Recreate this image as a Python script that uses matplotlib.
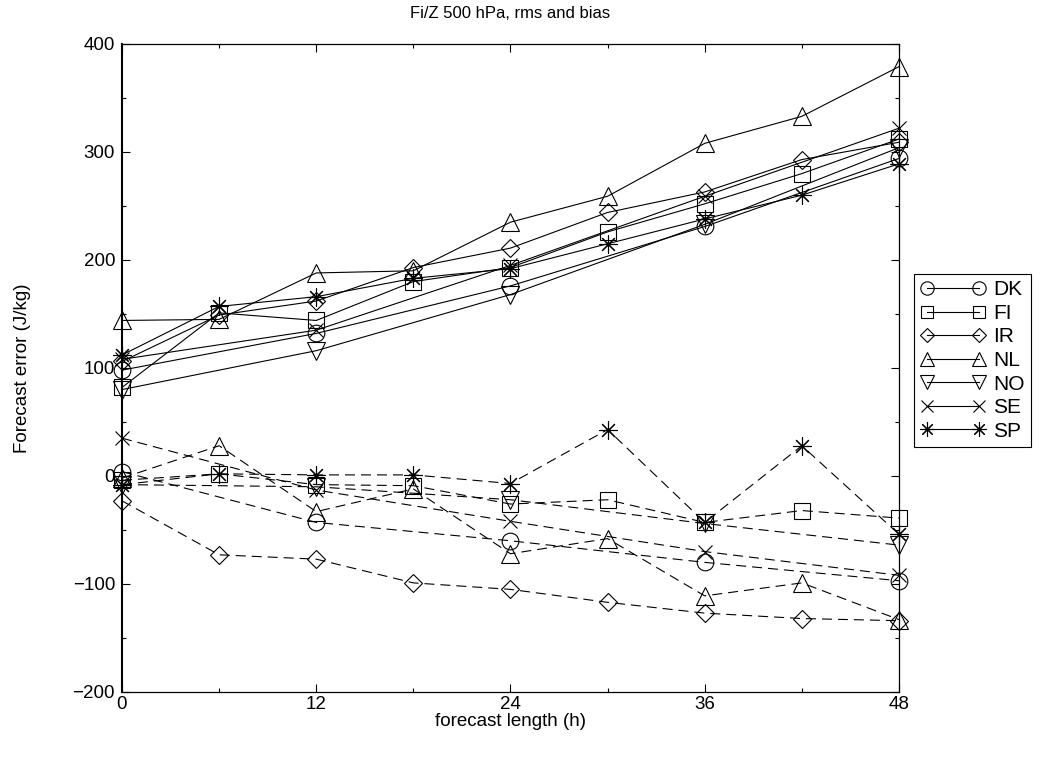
import matplotlib
matplotlib.use("Agg")
import matplotlib.pyplot as plt
from matplotlib.ticker import MultipleLocator
from matplotlib.lines import Line2D

plt.rcParams['font.family'] = ['Liberation Sans', 'DejaVu Sans']
plt.rcParams['lines.scale_dashes'] = False

# forecast lengths
hours_6 = [0, 6, 12, 18, 24, 30, 36, 42, 48]
hours_12 = [0, 12, 24, 36, 48]

countries = ['DK', 'FI', 'IR', 'NL', 'NO', 'SE', 'SP']

# rms (solid)
rms_dk = [98, 132, 176, 231, 294]
rms_fi = [82, 151, 144, 180, 193, 226, 252, 280, 312]
rms_ir = [106, 149, 162, 193, 211, 244, 263, 293, 309]
rms_nl = [144, 145, 188, 190, 235, 259, 308, 333, 379]
rms_no = [80, 116, 168, 233, 304]
rms_se = [108, 135, 195, 259, 322]
rms_sp = [112, 157, 166, 183, 192, 215, 238, 260, 289]

# bias (dashed)
bias_dk = [4, -43, -60, -80, -97]
bias_fi = [-4, 2, -8, -9, -26, -22, -43, -32, -39]
bias_ir = [-23, -73, -77, -99, -105, -117, -127, -132, -134]
bias_nl = [-2, 28, -33, -12, -72, -58, -111, -99, -133]
bias_no = [-8, -10, -22, -44, -64]
bias_se = [35, -13, -42, -70, -92]
bias_sp = [-8, 2, 1, 1, -7, 43, -43, 28, -54]

markers = {'DK': 'o', 'FI': 's', 'IR': 'D', 'NL': '^', 'NO': 'v',
           'SE': 'x', 'SP': (8, 2, 0)}
sizes = {'DK': 12, 'FI': 11, 'IR': 9, 'NL': 13, 'NO': 13, 'SE': 10, 'SP': 13}

series = [
    ('DK', hours_12, rms_dk, bias_dk),
    ('FI', hours_6, rms_fi, bias_fi),
    ('IR', hours_6, rms_ir, bias_ir),
    ('NL', hours_6, rms_nl, bias_nl),
    ('NO', hours_12, rms_no, bias_no),
    ('SE', hours_12, rms_se, bias_se),
    ('SP', hours_6, rms_sp, bias_sp),
]

fig = plt.figure(figsize=(10.4, 7.57), dpi=100)
ax = fig.add_axes([0.1173, 0.0859, 0.7471, 0.856])

handles = []
for name, h, rms, bias in series:
    style = dict(color='black', lw=0.8, marker=markers[name],
                 ms=sizes[name], mfc='none', mec='black', mew=0.8,
                 clip_on=False)
    ax.plot(h, rms, ls='-', **style)
    ax.plot(h, bias, ls=(0, (7.2, 4.3)), **style)
    handles.append(Line2D([], [], ls='-', label=name, **style))

ax.set_xlim(0, 48)
ax.set_ylim(-200, 400)
ax.xaxis.set_major_locator(MultipleLocator(12))
ax.xaxis.set_minor_locator(MultipleLocator(6))
ax.yaxis.set_major_locator(MultipleLocator(100))
ax.yaxis.set_minor_locator(MultipleLocator(50))
ax.tick_params(which='both', direction='in', top=True, right=True,
               labelsize=13.5, width=0.8, pad=5)
ax.tick_params(axis='x', which='both', pad=3)
ax.tick_params(which='major', length=6)
ax.tick_params(which='minor', length=3)
for s in ax.spines.values():
    s.set_linewidth(0.9)
ax.spines['left'].set_linewidth(1.5)

ax.set_title('Fi/Z 500 hPa, rms and bias', fontsize=12, pad=19)
ax.set_xlabel('forecast length (h)', fontsize=13.5, labelpad=0)
ax.set_ylabel('Forecast error (J/kg)', fontsize=13.5, labelpad=30)

leg = fig.legend(handles=handles, loc='upper left',
                 bbox_to_anchor=(914 / 1040, 1 - 274 / 757),
                 fontsize=15, numpoints=2, handlelength=3.1,
                 markerscale=0.8,
                 handletextpad=0.4, labelspacing=0.22, borderpad=0.3,
                 borderaxespad=0, fancybox=False, framealpha=1)
leg.get_frame().set_edgecolor('black')
leg.get_frame().set_linewidth(0.8)

fig.savefig('out.png', dpi=100)
